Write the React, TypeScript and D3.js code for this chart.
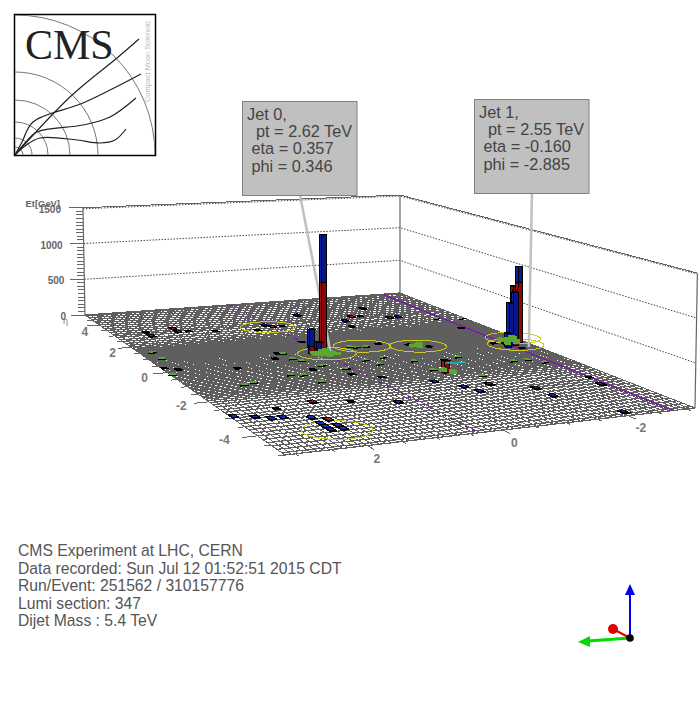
import React from "react";
import * as d3 from "d3";

// ---- event display data ----
const etTicks = [0, 500, 1000, 1500];
const etaTicks = [4, 2, 0, -2, -4];
const phiTicks = [2, 0, -2];
const absEtaEdges = [0,0.087,0.174,0.261,0.348,0.435,0.522,0.609,0.696,0.783,0.87,0.957,1.044,1.131,1.218,1.305,1.392,1.479,1.566,1.653,1.74,1.83,1.93,2.043,2.172,2.322,2.5,2.65,2.853,3.0,3.139,3.314,3.489,3.664,3.839,4.013,4.191,4.363,4.538,4.716,4.889,5.0];

const tallEta = [0.36, 0.47, 0.36, -0.08, 0.17, -0.19, -0.19, -0.29, -1.58];
const tallPhi = [0.36, 0.53, 0.45, -2.98, -3.04, -2.81, -2.72, -2.63, -0.85];
const tallEcal = [900, 90, 60, 790, 720, 40, 0, 0, 150];
const tallHcal = [600, 210, 90, 210, 0, 650, 560, 183, 0];

const blueEta = [2.93,2.68,-2.99,-3.13,-3.14,-3.28,2.87,3.6,3.8,2.66,2.65,-2.12,-3.04,-2.59,-2.9,-2.63,-3.06,-3.59,-3.25,-4.87,-3.35,-3.82,-3.94,-4.06,-4.0,-4.18];
const bluePhi = [2.09,2.59,3.1,2.8,2.63,2.45,0.49,-0.43,-1.83,-1.02,-2.08,-0.38,0.65,-0.67,-0.76,-1.11,-1.64,-1.62,-2.62,-2.07,2.14,2.14,2.11,2.1,1.97,1.95];
const redEta = [3.3,2.74,3.07,2.72,-2.58,-3.49];
const redPhi = [2.08,0.4,-1.26,-1.91,1.78,1.95];
const blackEta = [2.86,2.85,3.03,0.27,0.12,-0.11,-2.7,2.67,2.58,2.32,3.1,0.47,0.19,0.72,0.62,0.27,1.37,-0.61,-1.21,-1.52,-2.73,-2.78,1.44,0,-0.05,-0.46];
const blackPhi = [1.91,1.4,2.57,3.13,2.96,2.01,2.38,0.22,0.72,-0.91,-1.45,-1.17,-1.45,-0.77,1.09,1.23,0.42,1,0.61,0.21,1.25,-2.71,-2.63,-2.54,-2.72,-2.84];
const greenEta = [1.53,1.02,-0.1,-1.14,-1.1,0.06,-0.79,-0.95,-0.4,-0.75,-0.33,-0.21,-0.69,-1.46,-0.69,-1.32,-1.98,-0.61,-1.3,-1.25,-1.55,2.26,2.33,0.78,0.63,0.65,0.68,0.19,
  0.33,0.33,0.41,0.25, 0.36,0.28,0.24,0.25,0.5,0.44,0.22,0.3,0.17, 0.04,0,0.1,-0.1,-0.1,0.1,-1.5,-1.66];
const greenPhi = [2.94,2.88,3.13,2.35,2.1,0.9,1.44,1.25,0.73,0.45,-0.06,-0.35,-0.17,1.21,-0.76,-0.76,-1.29,-1.56,-2.24,-2.53,-2.69,-3.07,-2.64,-0.19,-0.33,-0.5,1.04,1.02,
  -1.29,-1.19,-1.35,-1.25, 0.57,0.55,0.48,0.29,0.38,0.3,0.24,0.42,0.36, -2.91,-2.8,-2.98,-2.9,-2.75,-2.75,-0.8,-0.9];
const greenEt = [8,8,8,8,8,8,8,8,8,8,8,8,8,8,8,8,8,8,8,8,8,8,8,8,8,8,8,8,
  40,30,30,25, 35,50,60,50,40,40,30,50,35, 80,60,60,60,45,50,40,40];

const ringEta = [0.357, 0.68, 0.33, 2.76, -0.16, 0.32, -4.13];
const ringPhi = [0.346, -0.42, -1.29, 0.47, -2.885, -3.1, 2.06];
const ringRadius = 0.48;
const metPhiSolid = -2.76;
const metPhiDashed = 0.38;

const jetLabels = [
  ["Jet 0,", "pt  = 2.62 TeV", "eta = 0.357", "phi = 0.346"],
  ["Jet 1,", "pt  = 2.55 TeV", "eta = -0.160", "phi = -2.885"],
];
const leaderEta = [0.3, -0.43];
const leaderPhi = [0.3, -2.99];
const infoLines = [
  "CMS Experiment at LHC, CERN",
  "Data recorded: Sun Jul 12 01:52:51 2015 CDT",
  "Run/Event: 251562 / 310157776",
  "Lumi section: 347",
  "Dijet Mass : 5.4 TeV",
];
const logoRadii = [8, 17, 33, 55, 83, 140];

// ---- projection ----
const PI = Math.PI;
const uScale = d3.scaleLinear().domain([5, -5]).range([0, 1]);
const vScale = d3.scaleLinear().domain([PI, -PI]).range([0, 1]);
const H = { a: 114.52, b: 352.92, c: 85, d: 3.53, e: 5.78, f: 315, g: -0.29993, h: 0.09481 };
const etPx = 0.0715;
function project(eta: number, phi: number, et = 0): [number, number] {
  const u = uScale(eta), v = vScale(phi);
  const w = H.g * u + H.h * v + 1;
  const x = (H.a * u + H.b * v + H.c) / w;
  const y = (H.d * u + H.e * v + H.f) / w;
  const px = (et * etPx) / w;
  return [x + (x - 400) * px * 6e-5, y - px];
}
const line = d3.line<[number, number]>();
const closed = (pts: [number, number][]) => (line(pts) ?? "") + "Z";

const etaEdges = [...absEtaEdges.slice(1).reverse().map((e) => -e), ...absEtaEdges];
const phiEdges = d3.range(0, 73).map((i) => -PI + (i * 2 * PI) / 72);

function cell(eta: number, phi: number, cap = 0.06) {
  const i = Math.min(Math.max(d3.bisectRight(etaEdges, eta) - 1, 0), etaEdges.length - 2);
  const dp = (2 * PI) / 72;
  const j = Math.min(Math.floor((phi + PI) / dp), 71);
  const mid = (etaEdges[i] + etaEdges[i + 1]) / 2;
  const half = Math.min((etaEdges[i + 1] - etaEdges[i]) / 2, cap);
  return { e0: mid - half, e1: mid + half, p0: -PI + j * dp, p1: -PI + (j + 1) * dp };
}

const PAL: Record<string, [string, string, string]> = {
  red: ["#8a0808", "#a00e0e", "#c81414"],
  blue: ["#08168a", "#0820a8", "#1030c4"],
  black: ["#000", "#000", "#000"],
};

function Segment({ eta, phi, z0, z1, color }: { eta: number; phi: number; z0: number; z1: number; color: string }) {
  const { e0, e1, p0, p1 } = cell(eta, phi, color === "black" ? 0.05 : 0.08);
  const [c1, c2, c3] = PAL[color];
  const front = closed([project(e0, p0, z0), project(e0, p1, z0), project(e0, p1, z1), project(e0, p0, z1)]);
  const side = closed([project(e0, p1, z0), project(e1, p1, z0), project(e1, p1, z1), project(e0, p1, z1)]);
  const top = closed([project(e0, p0, z1), project(e0, p1, z1), project(e1, p1, z1), project(e1, p0, z1)]);
  return (
    <g stroke="#000" strokeWidth={1} shapeRendering="crispEdges">
      <path d={side} fill={c2} />
      <path d={front} fill={c1} />
      <path d={top} fill={c3} />
    </g>
  );
}

function GreenTower({ eta, phi, et }: { eta: number; phi: number; et: number }) {
  const { e0, e1, p0, p1 } = cell(eta, phi, 0.045);
  const body = closed([project(e0, p0, 0), project(e0, p1, 0), project(e1, p1, 0), project(e1, p1, et), project(e1, p0, et), project(e0, p0, et)]);
  return (
    <g shapeRendering="crispEdges">
      {et < 20 && <path d={line([project(e0 - 0.04, p0), project(e0 - 0.04, p1 + 0.05)]) ?? ""} stroke="#000" strokeWidth={1.2} />}
      <path d={body} fill="#5aa82e" />
    </g>
  );
}

type T = { eta: number; phi: number; ecal: number; hcal: number; other: number };
const towers: T[] = [
  ...tallEta.map((eta, i) => ({ eta, phi: tallPhi[i], ecal: tallEcal[i], hcal: tallHcal[i], other: 0 })),
  ...blueEta.map((eta, i) => ({ eta, phi: bluePhi[i], ecal: 0, hcal: 8, other: 0 })),
  ...redEta.map((eta, i) => ({ eta, phi: redPhi[i], ecal: 8, hcal: 0, other: 0 })),
  ...blackEta.map((eta, i) => ({ eta, phi: blackPhi[i], ecal: 0, hcal: 0, other: 4 })),
];
towers.sort((a, b) => project(a.eta, a.phi)[1] - project(b.eta, b.phi)[1]);

function Logo() {
  const o: [number, number] = [15, 155];
  const curve = d3.line<[number, number]>().curve(d3.curveCatmullRom);
  const tracks: [number, number][][] = [
    [o, [70, 97], [117, 58], [139, 39]],
    [o, [22, 142], [33, 122], [83, 103], [141, 74]],
    [o, [25, 143], [37, 132], [83, 125], [110, 117], [136, 98]],
    [o, [25, 146], [40, 138], [77, 140], [100, 143], [115, 140], [126, 129]],
  ];
  return (
    <g>
      <rect x={14.5} y={14.5} width={141} height={141} fill="#fff" stroke="#000" strokeWidth={1.5} />
      <clipPath id="logoClip"><rect x={15} y={15} width={140} height={140} /></clipPath>
      <g clipPath="url(#logoClip)" fill="none">
        {logoRadii.map((r) => (
          <circle key={r} cx={15} cy={155} r={r} stroke="#777" strokeWidth={1} />
        ))}
        {tracks.map((t, i) => (
          <path key={i} d={curve(t) ?? ""} stroke="#222" strokeWidth={1.2} />
        ))}
      </g>
      <text x={25} y={59} fontFamily="'Liberation Serif'" fontSize={42} fill="#222">CMS</text>
      <text transform="translate(150,102) rotate(-90)" fontFamily="'Liberation Sans'" fontSize={7.4} fill="#bbb">Compact Muon Solenoid</text>
    </g>
  );
}

export default function App() {
  const font = "'Liberation Sans'";
  const etaGridD = etaEdges.map((e) => line([project(e, -PI), project(e, PI)])).join("");
  const phiGridD = phiEdges.map((p) => line([project(-5, p), project(5, p)])).join("");
  const rings = ringEta.map((e, i) =>
    closed(d3.range(0, 2 * PI, PI / 30).map((t) => project(e + ringRadius * Math.cos(t), ringPhi[i] + ringRadius * Math.sin(t))))
  );
  const corners: [number, number][] = [[5, PI], [5, -PI], [-5, -PI]];
  const wallPath = (et: number) => line(corners.map(([e, p]) => project(e, p, et))) ?? "";
  const minorEt = d3.range(0, 1501, 50);
  const [ax0, ay0] = project(5, PI, 0);
  const etaMinor = d3.range(-5, 5.01, 0.5);
  const phiMinor = d3.range(-3, 3.01, 0.5);

  return (
    <svg width={700} height={709} style={{ position: "absolute", left: 0, top: 0, background: "#fff" }}>
      <Logo />

      {/* walls */}
      <g fill="none">
        {[500, 1000, 1500].map((et) => (
          <path key={et} d={wallPath(et)} stroke="#444" strokeWidth={1} strokeDasharray="1.5 1.5" transform={et === 1500 ? "translate(0,1)" : undefined} />
        ))}
        <path d={wallPath(1500)} stroke="#666" strokeWidth={1} shapeRendering="crispEdges" />
        {corners.map(([e, p], i) => (
          <path key={i} d={line([project(e, p, 0), project(e, p, 1500)]) ?? ""} stroke="#666" strokeWidth={1.2} />
        ))}
      </g>

      {/* Et axis */}
      <g stroke="#666" strokeWidth={1} shapeRendering="crispEdges">
        {minorEt.map((et) => {
          const [x, y] = project(5, PI, et);
          const len = et % 500 === 0 ? 14 : 7;
          return <line key={et} x1={x - len} x2={x} y1={y} y2={y} />;
        })}
      </g>
      <g fontFamily={font} fontSize={10} fontWeight="bold" fill="#666" textAnchor="end">
        {etTicks.map((et) => {
          const [x, y] = project(5, PI, et);
          return <text key={et} x={x - 22 + (1500 - et) * 0.002} y={y + 5}>{et}</text>;
        })}
        <text x={60} y={207} fontSize={9.4}>Et[GeV]</text>
      </g>
      <text x={ax0 - 22} y={ay0 + 9} fontFamily={font} fontSize={9} fill="#777">η</text>

      {/* floor */}
      <path d={etaGridD} stroke="#5f5f5f" strokeWidth={1.22} fill="none" shapeRendering="crispEdges" />
      <path d={phiGridD} stroke="#5f5f5f" strokeWidth={1} fill="none" shapeRendering="crispEdges" />
      <path d={line([project(5, metPhiSolid), project(-5, metPhiSolid)]) ?? ""} stroke="#7a1aa8" strokeWidth={1.3} fill="none" shapeRendering="crispEdges" />
      <path d={line([project(5, metPhiDashed), project(-5, metPhiDashed)]) ?? ""} stroke="#7a1aa8" strokeWidth={1.3} strokeDasharray="3 5" fill="none" shapeRendering="crispEdges" />

      {/* axis ticks on the floor */}
      <g stroke="#666" strokeWidth={1} shapeRendering="crispEdges">
        {etaMinor.map((e) => {
          const major = Math.abs(e % 2) < 1e-6;
          return <path key={e} d={line([project(e, PI), project(e, PI + (major ? 0.22 : 0.1))]) ?? ""} />;
        })}
        {phiMinor.map((p) => {
          const major = Math.abs(p % 2) < 1e-6;
          return <path key={p} d={line([project(-5, p), project(-5 - (major ? 0.2 : 0.1), p)]) ?? ""} />;
        })}
      </g>
      <g fontFamily={font} fontSize={12} fontWeight="bold" fill="#777" textAnchor="middle">
        {etaTicks.map((e) => {
          const [x, y] = project(e, PI + 0.36 - 0.025 * e);
          return <text key={e} x={x} y={y + 7 + 0.6 * e}>{e}</text>;
        })}
        {phiTicks.map((p) => {
          const [x, y] = project(-5.45, p);
          return <text key={p} x={x - 5} y={y + 9}>{p}</text>;
        })}
      </g>

      {/* jet circles */}
      <g fill="none" stroke="#c8c81e" strokeWidth={1} shapeRendering="crispEdges">
        {rings.map((d, i) => <path key={i} d={d} />)}
      </g>

      {/* leaders */}
      {jetLabels.map((_, i) => {
        const lx = i === 0 ? 300 : 532;
        const ly = i === 0 ? 195 : 193;
        const [tx, ty] = project(leaderEta[i], leaderPhi[i]);
        return <path key={i} d={line([[lx, ly], [tx, ty]]) ?? ""} stroke="#c0c0c0" strokeWidth={2.5} fill="none" />;
      })}

      {/* towers */}
      {towers.map((t, i) => (
        <g key={i}>
          {t.ecal > 0 && <Segment eta={t.eta} phi={t.phi} z0={0} z1={t.ecal} color="red" />}
          {t.hcal > 0 && <Segment eta={t.eta} phi={t.phi} z0={t.ecal} z1={t.ecal + t.hcal} color="blue" />}
          {t.other > 0 && <Segment eta={t.eta} phi={t.phi} z0={0} z1={t.other} color="black" />}
        </g>
      ))}
      {greenEta.map((eta, i) => <GreenTower key={i} eta={eta} phi={greenPhi[i]} et={greenEt[i]} />)}

      {/* cyan track */}
      <path d={line([project(-1.02, -1.12), project(-1.0, -1.2), project(-1.1, -1.28), project(-1.04, -1.36), project(-1.08, -1.46)]) ?? ""} stroke="#19c8c8" strokeWidth={1.2} fill="none" />

      {/* labels */}
      {jetLabels.map((lines, i) => {
        const bx = i === 0 ? 242.5 : 474.5;
        const by = i === 0 ? 101.5 : 99.5;
        return (
          <g key={i}>
            <rect x={bx} y={by} width={114.5} height={94} fill="#c0c0c0" stroke="#808080" strokeWidth={1} />
            <g fontFamily={font} fontSize={16.3} fill="#444" style={{ whiteSpace: "pre" }}>
              {lines.map((s, k) => (
                <text key={k} x={bx + (k === 0 ? 4.5 : k === 1 ? 13.5 : 9)} y={by + 18 + k * 17.4}>{s}</text>
              ))}
            </g>
          </g>
        );
      })}

      {/* event info */}
      <g fontFamily={font} fontSize={15.7} fill="#555">
        {infoLines.map((s, i) => <text key={i} x={18} y={556 + i * 17.5}>{s}</text>)}
      </g>

      {/* orientation triad */}
      <g>
        <line x1={630} y1={638} x2={630} y2={592} stroke="#0000f0" strokeWidth={2} />
        <path d="M630,584L635,595L625,595Z" fill="#0000f0" />
        <line x1={630} y1={638} x2={588} y2={641} stroke="#00dc00" strokeWidth={3} />
        <path d="M578,642L590,636L590,647Z" fill="#00dc00" />
        <line x1={630} y1={638} x2={613} y2={629} stroke="#e00000" strokeWidth={2} />
        <circle cx={613} cy={629} r={5} fill="#e00000" />
        <circle cx={630} cy={638} r={3.8} fill="#000" />
      </g>
    </svg>
  );
}
